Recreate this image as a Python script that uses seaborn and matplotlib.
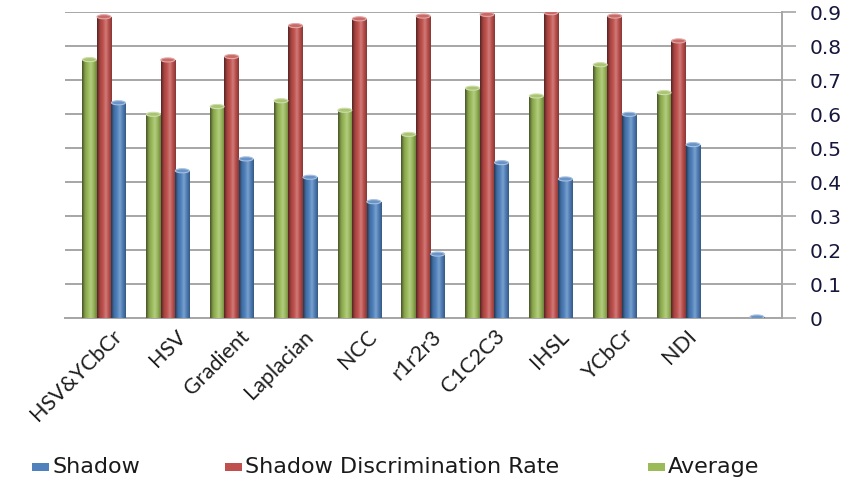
import numpy as np
import pandas as pd
import matplotlib
matplotlib.use("Agg")
import matplotlib.pyplot as plt
import seaborn as sns
from matplotlib.colors import LinearSegmentedColormap, to_rgb
from matplotlib.patches import Ellipse, Rectangle

# ---- data -------------------------------------------------------------
methods = ["HSV&YCbCr", "HSV", "Gradient", "Laplacian", "NCC", "r1r2r3",
           "C1C2C3", "IHSL", "YCbCr", "NDI", ""]
shadow = [0.633, 0.433, 0.468, 0.414, 0.342, 0.188, 0.457, 0.409, 0.599, 0.510, 0.003]
discrimination = [0.886, 0.759, 0.769, 0.860, 0.880, 0.888, 0.893, 0.898, 0.888, 0.815, np.nan]
average = [0.760, 0.599, 0.622, 0.639, 0.611, 0.540, 0.676, 0.653, 0.745, 0.663, np.nan]

series_names = ["Average", "Shadow Discrimination Rate", "Shadow"]
legend_order = ["Shadow", "Shadow Discrimination Rate", "Average"]
colors = {"Shadow": "#4F81BD",
          "Shadow Discrimination Rate": "#C0504D",
          "Average": "#9BBB59"}
yticks = [0, 0.1, 0.2, 0.3, 0.4, 0.5, 0.6, 0.7, 0.8, 0.9]

df = pd.DataFrame({
    "Method": methods * 3,
    "Series": ["Average"] * len(methods) + ["Shadow Discrimination Rate"] * len(methods)
              + ["Shadow"] * len(methods),
    "Value": average + discrimination + shadow,
})

# ---- figure -------------------------------------------------------------
sns.set_style("white")
plt.rcParams["font.family"] = ["DejaVu Sans"]

fig = plt.figure(figsize=(8.42, 4.79), dpi=100)
ax = fig.add_axes([65 / 842, 1 - 318 / 479, 717 / 842, 306 / 479])

sns.barplot(data=df, x="Method", y="Value", hue="Series", hue_order=series_names,
            palette=colors, order=methods, width=0.68, gap=0.0, legend=False,
            saturation=1, ax=ax, zorder=3, linewidth=0)


def shade(c, f):
    r = np.array(to_rgb(c))
    if f < 1:
        return tuple(r * f)
    return tuple(r + (1 - r) * (f - 1))


# columns sit a little left of their category slot (perspective look)
depth_shift = -0.12

# cylinder-style shading for every column
for container, name in zip(ax.containers, series_names):
    base = colors[name]
    cmap = LinearSegmentedColormap.from_list(
        name, [shade(base, 0.45), shade(base, 0.85), shade(base, 1.0),
               shade(base, 1.25), shade(base, 0.95), shade(base, 0.7)])
    grad = np.linspace(0, 1, 64).reshape(1, -1)
    for bar in container:
        bar.set_x(bar.get_x() + depth_shift)
        h = bar.get_height()
        if not np.isfinite(h):
            continue
        x0, w = bar.get_x(), bar.get_width()
        im = ax.imshow(grad, extent=[x0, x0 + w, 0, h], aspect="auto", cmap=cmap,
                       origin="lower", zorder=3.5, interpolation="bilinear")
        im.set_clip_path(bar)
        cap = Ellipse((x0 + w / 2, h), w * 0.96, 0.012, facecolor=shade(base, 1.15),
                      edgecolor=shade(base, 1.5), lw=0.8, zorder=4)
        ax.add_patch(cap)

ax.set_xlim(-0.73, 10.5)
ax.set_ylim(0, 0.9)

# y axis on the right
ax.yaxis.tick_right()
ax.set_yticks(yticks)
ax.set_yticklabels(["0" if v == 0 else f"{v:.1f}" for v in yticks])
ax.tick_params(axis="y", right=True, length=10, width=1.2, color="#A6A6A6",
               pad=10, labelsize=14.5, labelcolor="#17173d")
ax.grid(axis="y", color="#A6A6A6", linewidth=1.4, zorder=0)
ax.set_axisbelow(True)

# category axis
ax.set_xticks(range(len(methods)))
ax.set_xticklabels(methods, rotation=45, ha="right", rotation_mode="anchor",
                   fontsize=15.5, family=["Lato", "DejaVu Sans"], color="#1e1e1e")
ax.tick_params(axis="x", which="major", length=0, pad=6)
ax.set_xticks(np.arange(-0.5, len(methods)), minor=True)
ax.tick_params(axis="x", which="minor", length=6, width=1.2, color="#A6A6A6",
               direction="out")
ax.set_xlabel("")
ax.set_ylabel("")

for side in ["top", "left"]:
    ax.spines[side].set_visible(False)
for side in ["bottom", "right"]:
    ax.spines[side].set_color("#A6A6A6")
    ax.spines[side].set_linewidth(1.4)

# legend along the bottom edge
legend_x = {"Shadow": 32, "Shadow Discrimination Rate": 225, "Average": 648}
for name in legend_order:
    x = legend_x[name]
    fig.patches.append(Rectangle((x / 842, 1 - 471 / 479), 17 / 842, 8 / 479,
                                 transform=fig.transFigure, facecolor=colors[name],
                                 edgecolor="none"))
    fig.text((x + 20) / 842, 1 - 467 / 479, name, fontsize=16, va="center",
             ha="left", color="#1a1a1a")

fig.savefig("out.png", dpi=100, facecolor="white")
